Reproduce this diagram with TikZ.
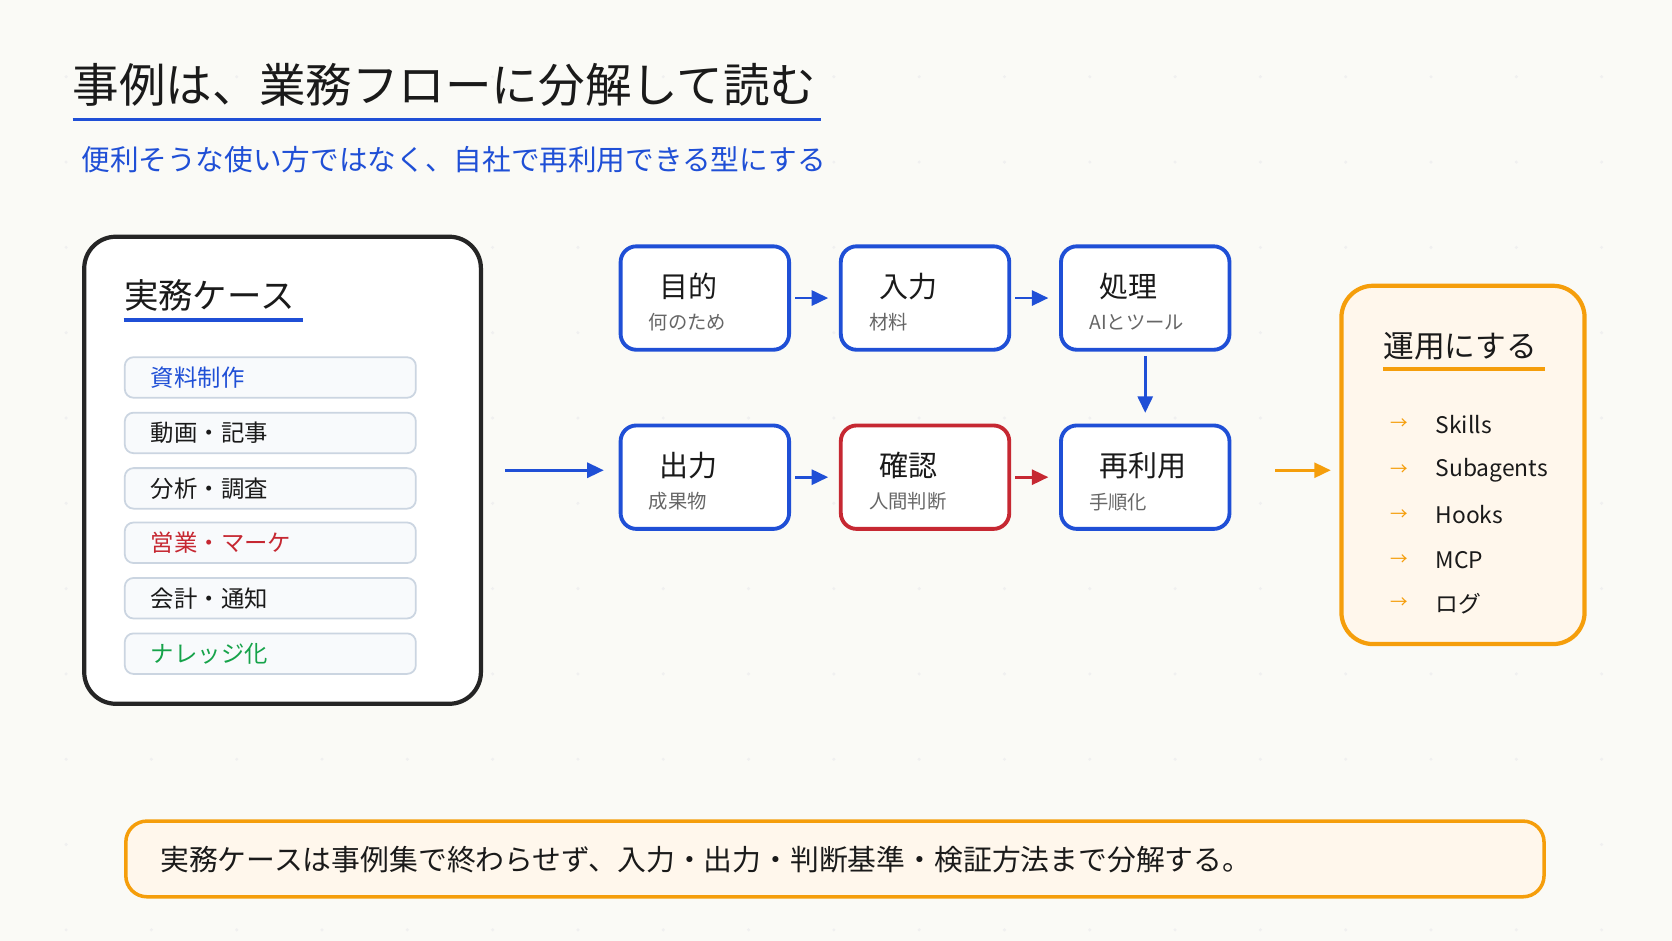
\documentclass[tikz,border=0pt]{standalone}
\usepackage{fontspec}
\setmainfont{Noto Sans CJK JP}
\usetikzlibrary{arrows.meta,positioning,calc}
\definecolor{flowBlue}{HTML}{1F4FD6}
\definecolor{flowRed}{HTML}{C62832}
\definecolor{flowGreen}{HTML}{16A34A}
\definecolor{flowOrange}{HTML}{F59E0B}
\definecolor{flowCream}{HTML}{FFF7EC}
\definecolor{flowPaper}{HTML}{FAFAF6}
\definecolor{flowInk}{HTML}{1A1A1A}
\definecolor{flowGrey}{HTML}{666666}
\definecolor{itemFill}{HTML}{F8FAFC}
\definecolor{itemLine}{HTML}{CBD5E1}
\tikzset{
  flow/.style={draw=#1, line width=2.2pt, fill=white, rounded corners=9pt,
               minimum width=158*0.21327mm, minimum height=97*0.21327mm},
  item/.style={draw=itemLine, line width=1pt, fill=itemFill, rounded corners=5pt,
               minimum width=273*0.21327mm, minimum height=38*0.21327mm},
  itemtext/.style={anchor=west, font=\fontsize{13.3}{15}\selectfont, text=#1, inner sep=0pt},
  flowtitle/.style={anchor=west, font=\fontsize{16.5}{18}\selectfont, text=flowInk, inner sep=0pt},
  flowsub/.style={anchor=west, font=\fontsize{11}{12}\selectfont, text=flowGrey, inner sep=0pt},
  step/.style={-{Triangle[length=3.3mm,width=3mm]}, line width=1.6pt, draw=#1},
  listtext/.style={anchor=west, font=\fontsize{13}{15}\selectfont, text=flowInk, inner sep=0pt},
}
% flow box: name, centre x, centre y, colour, title, subtitle
\newcommand{\flowbox}[6]{%
  \node[flow=#4] (#1) at (#2,#3) {};
  \node[flowtitle] (#1t) at ($(#1.west)+(38,-11)$) {#5};
  \node[flowsub] (#1s) at ($(#1.west)+(28,23)$) {#6};
}
\begin{document}
\begin{tikzpicture}[x=0.21327mm, y=-0.21327mm]
  \useasboundingbox (0,0) rectangle (1568,882);
  \fill[flowPaper] (0,0) rectangle (1568,882);
  % dot grid
  \foreach \i in {0,...,19} {
    \foreach \j in {0,...,10} {
      \fill[gray!12] (62+80*\i,72+80*\j) circle (1.6);
    }
  }

  % heading
  \node[anchor=west, inner sep=0pt, font=\fontsize{26.5}{30}\selectfont, text=flowInk] (title) at (68,80) {事例は、業務フローに分解して読む};
  \draw[flowBlue, line width=2pt] (68,112) -- (770,112);
  \node[anchor=west, inner sep=0pt, font=\fontsize{16.3}{19}\selectfont, text=flowBlue] (subtitle) at (76,150) {便利そうな使い方ではなく、自社で再利用できる型にする};

  % cases panel
  \draw[flowInk!95, line width=2.4pt, fill=white, rounded corners=18pt] (79,222) rectangle (451,660);
  \node[anchor=west, inner sep=0pt, font=\fontsize{19.6}{22}\selectfont, text=flowInk] (cases) at (116,277) {実務ケース};
  \draw[flowBlue, line width=2pt] (116,300) -- (284,300);
  \foreach \y/\t/\c [count=\k] in {354/資料制作/flowBlue, 406/動画・記事/flowInk, 458/分析・調査/flowInk,
                          509/営業・マーケ/flowRed, 561/会計・通知/flowInk, 613/ナレッジ化/flowGreen} {
    \node[item] (case\k) at (253.5,\y) {};
    \node[itemtext=\c] at ($(case\k.west)+(25,0)$) {\t};
  }
  \coordinate (casesout) at (474,441);

  % flow
  \flowbox{goal}{661}{279.5}{flowBlue}{目的}{何のため}
  \flowbox{input}{867.5}{279.5}{flowBlue}{入力}{材料}
  \flowbox{proc}{1074}{279.5}{flowBlue}{処理}{AIとツール}
  \flowbox{output}{661}{447.5}{flowBlue}{出力}{成果物}
  \flowbox{check}{867.5}{447.5}{flowRed}{確認}{人間判断}
  \flowbox{reuse}{1074}{447.5}{flowBlue}{再利用}{手順化}

  \draw[step=flowBlue] ($(goal.east)+(4,0)$) -- ($(input.west)+(-10,0)$);
  \draw[step=flowBlue] ($(input.east)+(4,0)$) -- ($(proc.west)+(-10,0)$);
  \draw[step=flowBlue] ($(proc.south)+(0,4)$) -- ($(reuse.north)+(0,-10)$);
  \draw[step=flowBlue] ($(output.east)+(4,0)$) -- ($(check.west)+(-10,0)$);
  \draw[step=flowRed] ($(check.east)+(4,0)$) -- ($(reuse.west)+(-10,0)$);
  \draw[step=flowBlue] (casesout) -- ($(casesout -| output.west)+(-14,0)$);

  % operation panel
  \draw[flowOrange, line width=2.4pt, fill=flowCream, rounded corners=18pt] (1258,268) rectangle (1486,604);
  \node[anchor=west, inner sep=0pt, font=\fontsize{17.5}{20}\selectfont, text=flowInk] (ops) at (1297,325) {運用にする};
  \draw[flowOrange, line width=2pt] (1297,346) -- (1449,346);
  \coordinate (opsin) at (1248,441);
  \draw[step=flowOrange] ($(opsin)+(-52,0)$) -- (opsin);
  \foreach \y/\t in {398/Skills, 441/Subagents, 483/Hooks, 525/MCP, 566/ログ} {
    \node[anchor=west, inner sep=0pt, text=flowOrange, font=\fontsize{10}{12}\selectfont] at (1304,\y) {→};
    \node[listtext] at (1346,\y) {\t};
  }

  % summary
  \draw[flowOrange, line width=2pt, fill=flowCream, rounded corners=12pt] (118,770) rectangle (1448,841);
  \node[anchor=west, inner sep=0pt, font=\fontsize{16.4}{19}\selectfont, text=flowInk] (summary) at (150,806) {実務ケースは事例集で終わらせず、入力・出力・判断基準・検証方法まで分解する。};
\end{tikzpicture}
\end{document}
